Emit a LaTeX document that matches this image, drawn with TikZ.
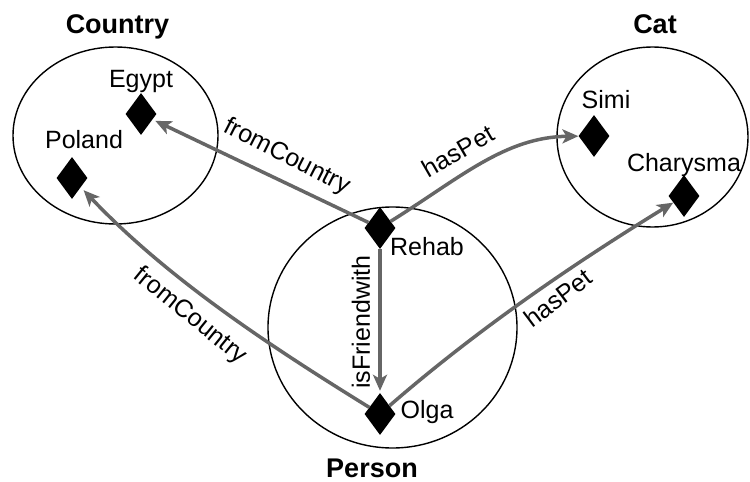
\documentclass[tikz,border=0pt]{standalone}
\usepackage{fontspec}
\setmainfont{Liberation Sans}
\usetikzlibrary{shapes.geometric,arrows.meta}
\definecolor{relgray}{RGB}{102,102,102}
\begin{document}
\begin{tikzpicture}[x=1pt,y=-1pt]
\tikzset{
  inst/.style={diamond, fill=black, inner sep=0pt, minimum width=31pt, minimum height=42pt},
  cls/.style={ellipse, draw=black, line width=1.4pt, inner sep=0pt},
  lbl/.style={font=\fontsize{25}{30}\selectfont, anchor=base, inner sep=0pt},
  ttl/.style={font=\bfseries\fontsize{27}{32}\selectfont, anchor=base, inner sep=0pt},
  rel/.style={draw=relgray, line width=3.5pt, -{Stealth[length=16pt,width=14pt,inset=4pt]}},
  rellbl/.style={font=\fontsize{25}{30}\selectfont, inner sep=0pt},
}
\path[use as bounding box] (0,0) rectangle (750,482);

% classes
\node[cls, minimum width=205pt, minimum height=177pt] (country) at (115.5,135.5) {};
\node[cls, minimum width=249pt, minimum height=241pt] (person) at (392.5,327.5) {};
\node[cls, minimum width=191pt, minimum height=180pt] (cat) at (652.5,137) {};

\node[ttl] (countryT) at (117.5,33) {Country};
\node[ttl] (personT) at (372,477) {Person};
\node[ttl] (catT) at (655,33) {Cat};

% instances
\node[inst] (egypt) at (141,114) {};
\node[inst] (poland) at (72,178) {};
\node[inst] (rehab) at (380,228) {};
\node[inst] (olga) at (380,414) {};
\node[inst] (simi) at (594,136) {};
\node[inst] (charysma) at (684,196) {};

\node[lbl] (egyptL) at (141,87) {Egypt};
\node[lbl] (polandL) at (84,148) {Poland};
\node[lbl] (rehabL) at (427,255) {Rehab};
\node[lbl] (olgaL) at (427,418) {Olga};
\node[lbl] (simiL) at (606,108) {Simi};
\node[lbl] (charysmaL) at (684,171) {Charysma};

% control points of the curved relations
\coordinate (k1) at (270,346);
\coordinate (k2) at (168,279);
\coordinate (k3) at (460,178);
\coordinate (k4) at (505,137);
\coordinate (k5) at (479,328);
\coordinate (k6) at (575,263);

% relations
\draw[rel, shorten >=3pt] (rehab) -- (egypt);
\draw[rel, shorten >=4pt] (olga) .. controls (k1) and (k2) .. (poland);
\draw[rel] (rehab) .. controls (k3) and (k4) .. (simi);
\draw[rel] (olga) .. controls (k5) and (k6) .. (charysma);
\draw[rel, shorten >=2pt] (rehab) -- (olga);

% relation labels
\node[rellbl, rotate=-27] (fc1) at (287,157) {fromCountry};
\node[rellbl, rotate=-39] (fc2) at (190,316) {fromCountry};
\node[rellbl, rotate=30] (hp1) at (458,151) {hasPet};
\node[rellbl, rotate=37] (hp2) at (558,298) {hasPet};
\node[rellbl, rotate=90] (fw) at (361,322) {isFriendwith};
\end{tikzpicture}
\end{document}
